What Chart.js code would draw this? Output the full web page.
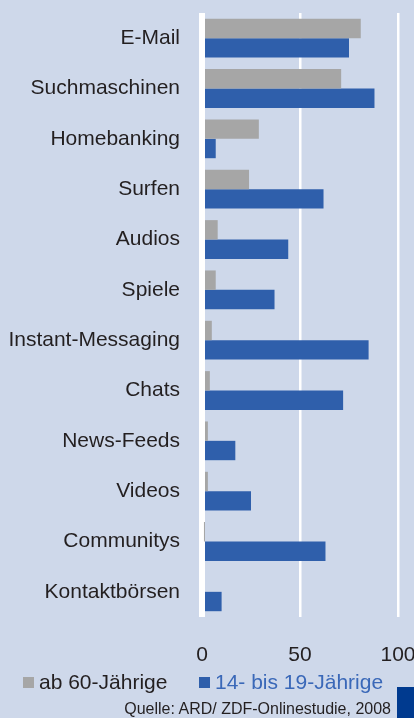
<!DOCTYPE html>
<html>
<head>
<meta charset="utf-8">
<script src="https://cdn.jsdelivr.net/npm/chart.js@4"></script>
<style>
  html, body { margin: 0; padding: 0; }
  body {
    width: 414px; height: 718px; overflow: hidden; position: relative;
    background: #ced8ea;
    font-family: "Liberation Sans", Arial, sans-serif;
  }
  #wrap { position: absolute; left: 0; top: 0; width: 432px; height: 672px; }
  .legend { position: absolute; top: 669px; font-size: 21px; line-height: 26px; white-space: nowrap; }
  .legend span.box { display: inline-block; width: 11px; height: 11px; margin-right: 5px; vertical-align: 1px; }
  #source { position: absolute; right: 23px; top: 700px; font-size: 16px; color: #231f20; white-space: nowrap; }
  #corner { position: absolute; left: 397px; top: 687px; width: 17px; height: 31px; background: #003a8f; }
</style>
</head>
<body>
<div id="wrap"><canvas id="myChart"></canvas></div>
<div class="legend" style="left:23px;color:#231f20"><span class="box" style="background:#a6a6a6"></span>ab 60-Jährige</div>
<div class="legend" style="left:199px;color:#3a68b8"><span class="box" style="background:#2f5fab"></span>14- bis 19-Jährige</div>
<div id="source">Quelle: ARD/ ZDF-Onlinestudie, 2008</div>
<div id="corner"></div>
<script>
/*Daten*/
const kategorien = [
  'E-Mail', 'Suchmaschinen', 'Homebanking', 'Surfen', 'Audios', 'Spiele',
  'Instant-Messaging', 'Chats', 'News-Feeds', 'Videos', 'Communitys', 'Kontaktbörsen'
];
const ab60 = [81, 71, 29, 24, 8, 7, 5, 4, 3, 3, 1, 0];
const jugend = [75, 88, 7, 62, 44, 37, 85, 72, 17, 25, 63, 10];
const xTicks = [0, 50, 100];

const schrift = { family: '"Liberation Sans", Arial, sans-serif', size: 21 };

const config = {
  type: 'bar',
  data: {
    labels: kategorien,
    datasets: [{
      label: 'ab 60-Jährige',
      data: ab60,
      backgroundColor: '#a6a6a6'
    }, {
      label: '14- bis 19-Jährige',
      data: jugend,
      backgroundColor: '#2f5fab'
    }]
  },
  options: {
    indexAxis: 'y',
    responsive: true,
    maintainAspectRatio: false,
    animation: false,
    categoryPercentage: 0.77,
    barPercentage: 1.0,
    layout: {
      padding: { top: 13, right: 34, bottom: 7, left: 0 }
    },
    plugins: {
      legend: { display: false },
      tooltip: { enabled: false }
    },
    scales: {
      x: {
        min: 0,
        max: 100,
        afterBuildTicks: (scale) => {
          scale.ticks = xTicks.map(v => ({ value: v }));
        },
        afterFit: (scale) => {
          // feste Hoehe, keine Extra-Polsterung
          scale.height = 48;
          scale.paddingLeft = 0;
          scale.paddingRight = 0;
        },
        border: { display: false },
        grid: {
          color: '#ffffff',
          lineWidth: (ctx) => ctx.tick && ctx.tick.value === 0 ? 6 : 2.5,
          drawTicks: false
        },
        ticks: {
          color: '#231f20',
          font: schrift,
          padding: 26,
          maxRotation: 0
        }
      },
      y: {
        afterFit: (scale) => {
          scale.width = 202;
          scale.paddingTop = 0;
          scale.paddingBottom = 0;
        },
        border: { display: false },
        grid: { display: false, drawTicks: false },
        ticks: {
          color: '#231f20',
          font: schrift,
          padding: 22,
          autoSkip: false
        }
      }
    }
  }
};

const myChart = new Chart(document.getElementById('myChart'), config);
</script>
</body>
</html>
